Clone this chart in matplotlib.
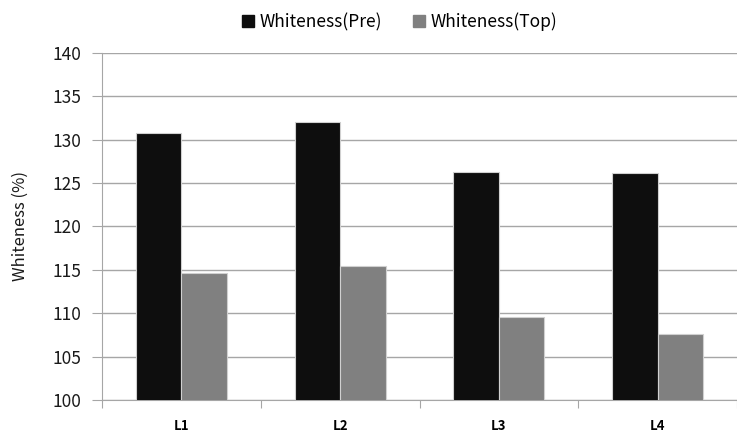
import numpy as np
import matplotlib.pyplot as plt
from matplotlib.patches import Patch

plt.rcParams['font.family'] = ['Noto Sans CJK KR', 'DejaVu Sans']

# ============== data ==============
labels = ['L1', 'L2', 'L3', 'L4']
whitenessPre = [130.7, 132.0, 126.3, 126.2]
whitenessTop = [114.6, 115.4, 109.6, 107.6]
seriesNames = ['Whiteness(Pre)', 'Whiteness(Top)']
yTicks = [100, 105, 110, 115, 120, 125, 130, 135, 140]
# ===================================

preColor = '#0e0e0e'
topColor = '#808080'
gridColor = '#a6a6a6'

fig = plt.figure(figsize=(7.37, 4.36), dpi=100)
ax = fig.add_axes([102 / 737, 1 - 400 / 436, 1 - 102 / 737, (400 - 52.7) / 436])

x = np.arange(len(labels))
barWidth = 0.287
ax.bar(x - barWidth / 2, whitenessPre, barWidth, color=preColor,
       edgecolor='#d0d0d0', linewidth=0.8, zorder=3)
ax.bar(x + barWidth / 2, whitenessTop, barWidth, color=topColor,
       edgecolor='#d0d0d0', linewidth=0.8, zorder=3)

ax.set_ylim(100, 140)
ax.set_xlim(-0.5, 3.456)
ax.set_yticks(yTicks)
ax.tick_params(axis='y', labelsize=12.5, length=7, color=gridColor,
               pad=8, labelcolor='#1a1a1a')
ax.yaxis.grid(True, color=gridColor, linewidth=1, zorder=0)
ax.set_axisbelow(True)

# category boundaries carry the tick marks, names sit in between
ax.set_xticks(np.arange(-0.5, len(labels), 1.0))
ax.set_xticklabels([])
ax.set_xticks(x, minor=True)
ax.set_xticklabels(labels, minor=True, fontsize=9.5, fontweight='bold')
ax.tick_params(axis='x', which='major', length=6, color=gridColor)
ax.tick_params(axis='x', which='minor', length=0, pad=14)

for side in ['top', 'right']:
    ax.spines[side].set_visible(False)
ax.spines['left'].set_color(gridColor)
ax.spines['bottom'].set_color(gridColor)

ax.set_ylabel('Whiteness (%)', fontsize=12, labelpad=17, color='#1a1a1a')

handles = [Patch(color=preColor), Patch(color=topColor)]
fig.legend(handles, seriesNames, loc='center', bbox_to_anchor=(0.542, 0.95),
           ncol=2, frameon=False, fontsize=12.5, handlelength=0.7,
           handleheight=0.7, handletextpad=0.3, columnspacing=1.8)

fig.savefig('out.png', dpi=100)
